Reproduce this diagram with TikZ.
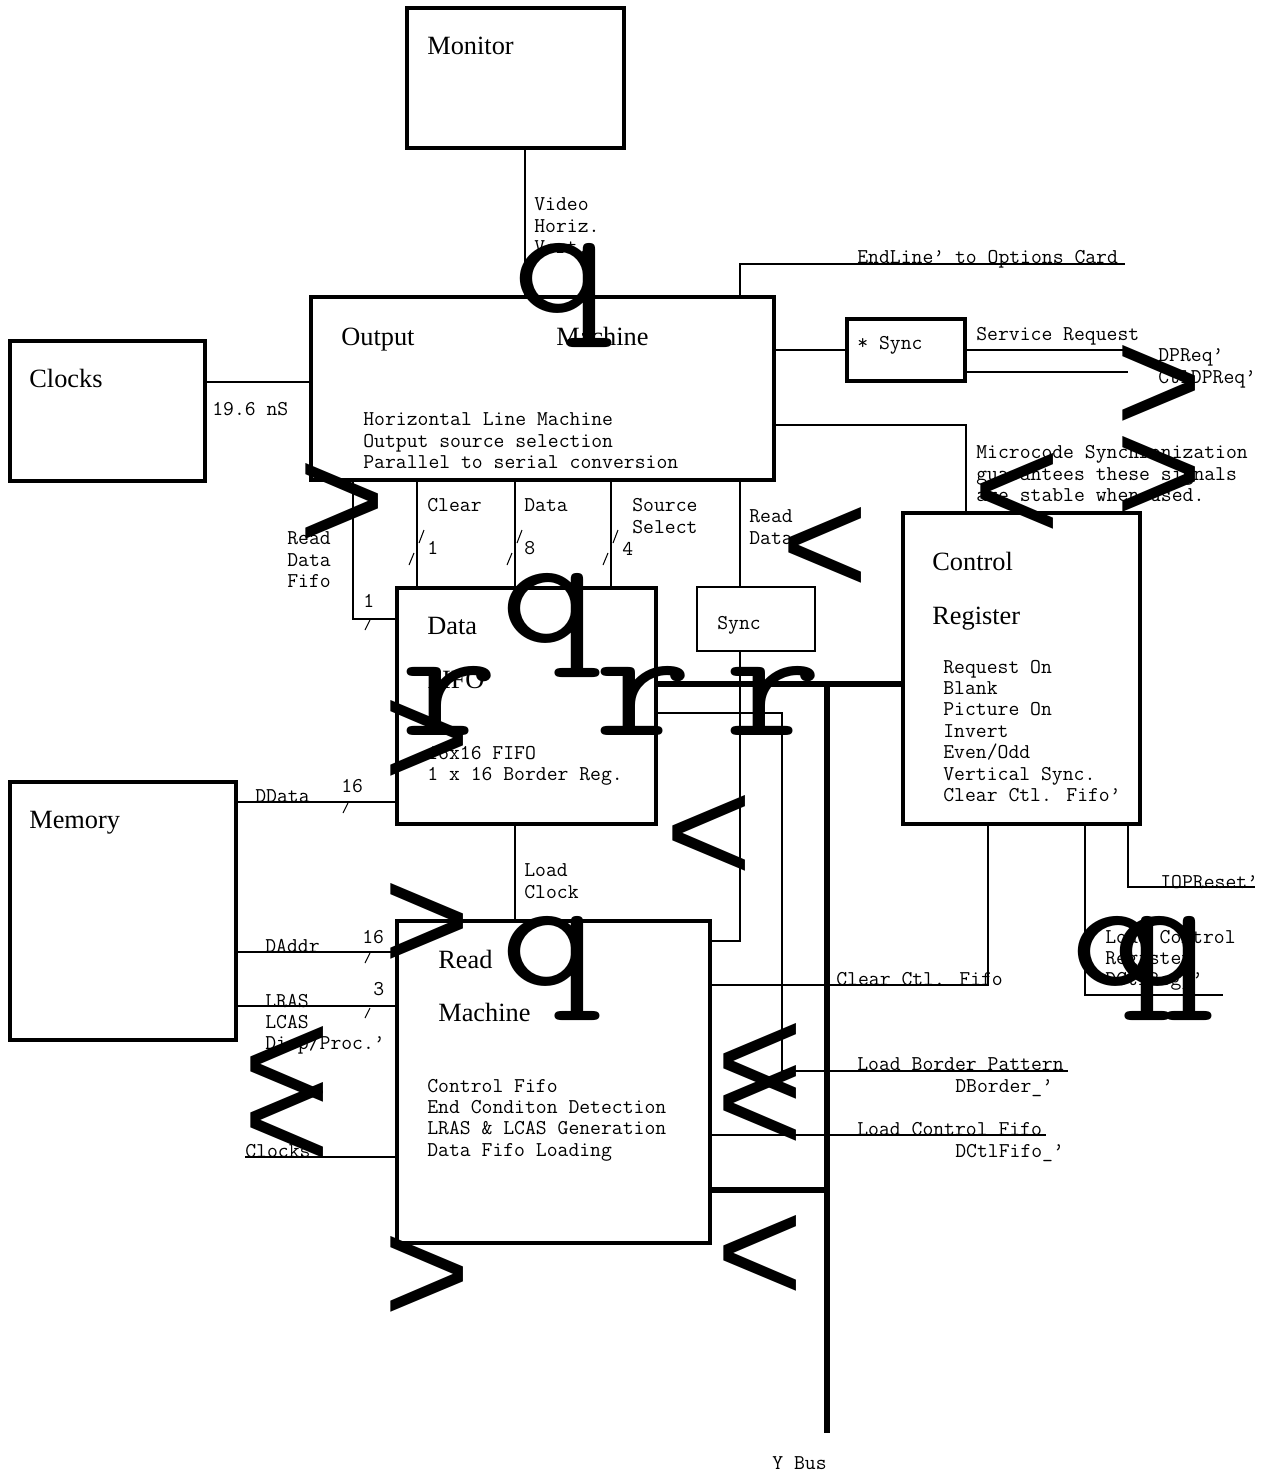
\documentclass[tikz,border=0pt]{standalone}
\usepackage{fontspec}
\setmainfont{Liberation Serif}
\newfontfamily\arialfont{Liberation Sans}
\usetikzlibrary{fit}
\usetikzlibrary{positioning}

\tikzset{
  box/.style={draw, line width=2.8pt, inner sep=0pt},
  syncbox/.style={draw, line width=1.8pt, inner sep=0pt},
  sig/.style={line width=1.6pt},
  bus/.style={line width=3pt},
  tick/.style={line width=0.6pt},
  title/.style={font=\fontsize{15}{18}\selectfont, inner sep=0pt, anchor=base west},
  mono/.style={font={\ttfamily\fontsize{12}{12.2}\selectfont}, inner sep=0pt, anchor=north west, align=left},
  chevron/.style={font={\arialfont\fontsize{85}{85}\selectfont}, inner sep=0pt, anchor=base west},
  bigletter/.style={font={\ttfamily\fontsize{90}{90}\selectfont}, inner sep=0pt, anchor=base west}
}

\begin{document}
\begin{tikzpicture}[x=0.02cm, y=-0.02cm]
\useasboundingbox (0,0) rectangle (1273,1475);

\node[box, fit={(407,8) (624,148)}] (mon) {};
\node[box, fit={(311,297) (774,480)}] (outm) {};
\node[box, fit={(10,341) (205,481)}] (clk) {};
\node[syncbox, fit={(847,319) (965,381)}] (sync1) {};
\node[box, fit={(903,513) (1140,824)}] (ctlreg) {};
\node[box, fit={(397,588) (656,824)}] (fifo) {};
\node[syncbox, line width=1.5pt, fit={(697,587) (815,651)}] (sync2) {};
\node[box, fit={(10,782) (236,1040)}] (mem) {};
\node[box, fit={(397,921) (710,1243)}] (readm) {};

\node[title] at (427,54) {Monitor};
\node[title] at (341,345) {Output};
\node[title] at (556,345) {Machine};
\node[title] at (29,387) {Clocks};
\node[title] at (932,570) {Control};
\node[title] at (932,624) {Register};
\node[title] at (427,634) {Data};
\node[title] at (427,688) {FIFO};
\node[title] at (29,828) {Memory};
\node[title] at (438,968) {Read};
\node[title] at (438,1021) {Machine};

\node[mono] at (534,197.5) {Video\\Horiz.\\Vert.};
\node[mono] at (363,412.5) {Horizontal Line Machine\\Output source selection\\Parallel to serial conversion};
\node[mono] at (212,402.5) {19.6 nS};
\node[mono] at (857,250.5) {EndLine’ to Options Card};
\node[mono] at (857,336.5) {* Sync};
\node[mono] at (976,327.5) {Service Request};
\node[mono] at (1158,348.5) {DPReq’\\CtlDPReq’};
\node[mono] at (976,445.5) {Microcode Synchronization\\guarantees these signals\\are stable when used.};
\node[mono] at (943,659.5) {Request On\\Blank\\Picture On\\Invert\\Even/Odd\\Vertical Sync.\\Clear Ctl. Fifo’};
\node[mono] at (287,531.5) {Read\\Data\\Fifo};
\node[mono] at (427,498.5) {Clear};
\node[mono] at (524,498.5) {Data};
\node[mono] at (632,498.5) {Source\\Select};
\node[mono] at (749,509.5) {Read\\Data};
\node[mono] at (427,541.5) {1};
\node[mono] at (524,541.5) {8};
\node[mono] at (622,541.5) {4};
\node[mono] at (363,594.5) {1};
\node[mono] at (717,616.5) {Sync};
\node[mono] at (427,745.5) {16x16 FIFO\\1 x 16 Border Reg.};
\node[mono] at (255,789.5) {DData};
\node[mono] at (341,778.5) {16};
\node[mono] at (524,863.5) {Load\\Clock};
\node[mono] at (265,938.5) {DAddr};
\node[mono] at (362,929.5) {16};
\node[mono] at (265,993.5) {LRAS\\LCAS\\Disp/Proc.’};
\node[mono] at (373,981.5) {3};
\node[mono] at (245,1143.5) {Clocks};
\node[mono] at (427,1078.5) {Control Fifo\\End Conditon Detection\\LRAS \& LCAS Generation\\Data Fifo Loading};
\node[mono] at (836,971.5) {Clear Ctl. Fifo};
\node[mono] at (857,1057.5) {Load Border Pattern};
\node[mono] at (955,1079.5) {DBorder\_’};
\node[mono] at (857,1121.5) {Load Control Fifo};
\node[mono] at (955,1143.5) {DCtlFifo\_’};
\node[mono] at (1160,874.5) {IOPReset’};
\node[mono] at (1105,929.5) {Load Control\\Register\\DCtlReg\_’};
\node[mono] at (772,1456.5) {Y Bus};

\coordinate (eolend) at (1125,264);
\coordinate (srqend) at (1128,350);
\coordinate (ctqend) at (1128,372);
\coordinate (ybtop) at (827,684);
\coordinate (ybbot) at (827,1433);
\coordinate (lbpturn) at (782,1071);
\coordinate (lbpend) at (1068,1071);
\coordinate (lcfend) at (1046,1135);
\coordinate (lcrend) at (1223,995);
\coordinate (iopend) at (1255,887);
\coordinate (clkin) at (245,1157);

\draw[sig] (mon.south -| 525,0) -- (outm.north -| 525,0);
\draw[sig] (outm.north -| 740,0) |- (eolend);
\draw[sig] (clk.east |- 0,382) -- (outm.west |- 0,382);
\draw[sig] (outm.east |- sync1.west) -- (sync1.west);
\draw[sig] (sync1.east |- srqend) -- (srqend);
\draw[sig] (sync1.east |- ctqend) -- (ctqend);
\draw[sig] (outm.east |- 0,425) -| (ctlreg.north -| 966,0);
\draw[sig] (outm.south -| 353,0) |- (fifo.west |- 0,619);
\draw[sig] (outm.south -| 417,0) -- (fifo.north -| 417,0);
\draw[sig] (outm.south -| 515,0) -- (fifo.north -| 515,0);
\draw[sig] (outm.south -| 611,0) -- (fifo.north -| 611,0);
\draw[sig] (outm.south -| 740,0) -- (sync2.north -| 740,0);
\draw[sig] (sync2.south -| 740,0) |- (readm.east |- 0,941);
\draw[sig] (fifo.south -| 515,0) -- (readm.north -| 515,0);
\draw[bus] (fifo.east |- ybtop) -- (ctlreg.west |- ybtop);
\draw[bus] (ybtop) -- (ybbot);
\draw[bus] (readm.east |- 0,1190) -- (ybtop |- 0,1190);
\draw[sig] (fifo.east |- 0,713) -| (lbpturn) -- (lbpend);
\draw[sig] (readm.east |- lcfend) -- (lcfend);
\draw[sig] (readm.east |- 0,985) -| (ctlreg.south -| 988,0);
\draw[sig] (ctlreg.south -| 1085,0) |- (lcrend);
\draw[sig] (ctlreg.south -| 1128,0) |- (iopend);
\draw[sig] (mem.east |- 0,802) -- (fifo.west |- 0,802);
\draw[sig] (mem.east |- 0,952) -- (readm.west |- 0,952);
\draw[sig] (mem.east |- 0,1006) -- (readm.west |- 0,1006);
\draw[sig] (clkin) -- (readm.west |- clkin);

\draw[tick] (419,543) -- (424,530);
\draw[tick] (409,565) -- (414,553);
\draw[tick] (517,543) -- (522,530);
\draw[tick] (507,565) -- (512,553);
\draw[tick] (613,543) -- (618,530);
\draw[tick] (603,565) -- (608,553);
\draw[tick] (365,630) -- (370,620);
\draw[tick] (343,813) -- (348,803);
\draw[tick] (365,963) -- (370,953);
\draw[tick] (365,1018) -- (370,1008);

\node[chevron] at (298,550) {>};
\node[chevron] at (383,787) {>};
\node[chevron] at (383,970) {>};
\node[chevron] at (383,1323) {>};
\node[chevron] at (1115,432) {>};
\node[chevron] at (1115,523) {>};
\node[chevron] at (781,594) {<};
\node[chevron] at (665,882) {<};
\node[chevron] at (973,540) {<};
\node[chevron] at (243,1113) {<};
\node[chevron] at (243,1169) {<};
\node[chevron] at (716,1110) {<};
\node[chevron] at (716,1152) {<};
\node[chevron] at (716,1302) {<};

\node[bigletter] at (512,312) {\scalebox{1.2}[1]{q}};
\node[bigletter] at (500,642) {\scalebox{1.2}[1]{q}};
\node[bigletter] at (500,985) {\scalebox{1.2}[1]{q}};
\node[bigletter] at (1070,985) {\scalebox{1.2}[1]{q}};
\node[bigletter] at (1112,985) {\scalebox{1.2}[1]{q}};
\node[bigletter] at (400,735) {\scalebox{1.2}[1]{r}};
\node[bigletter] at (594,735) {\scalebox{1.2}[1]{r}};
\node[bigletter] at (724,735) {\scalebox{1.2}[1]{r}};

\end{tikzpicture}
\end{document}
